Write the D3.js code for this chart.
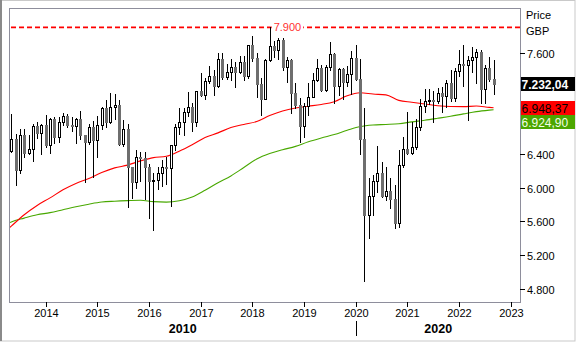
<!DOCTYPE html>
<html>
<head>
<meta charset="utf-8">
<script src="https://cdn.jsdelivr.net/npm/d3@7"></script>
<style>
  html, body { margin: 0; padding: 0; background: #fff; }
  svg { display: block; font-family: "Liberation Sans", Arial, sans-serif; }
</style>
</head>
<body>
<svg id="chart" width="577" height="343"></svg>
<script>
// FTSE 100, monthly candles from May 2013 to Sep 2022 (index 0 = May 2013)
const opens = [
  6430, 6583, 6215, 6621, 6413, 6462, 6731, 6651,
  6749, 6510, 6810, 6598, 6780, 6845, 6744, 6730, 6820, 6623, 6546, 6723,
  6566, 6749, 6947, 6773, 6961, 6984, 6521, 6696, 6248, 6062, 6361, 6356,
  6242, 6084, 6097, 6175, 6242, 6231, 6504, 6724, 6782, 6899, 6954, 6784,
  7143, 7099, 7263, 7323, 7204, 7520, 7313, 7372, 7431, 7373, 7493, 7327,
  7688, 7534, 7232, 7057, 7509, 7678, 7637, 7749, 7432, 7510, 7128, 6980,
  6728, 6969, 7075, 7279, 7418, 7162, 7426, 7587, 7207, 7408, 7248, 7347,
  7542, 7286, 6581, 5672, 5901, 6077, 6170, 5898, 5964, 5866, 5577, 6266,
  6461, 6407, 6483, 6714, 6970, 7023, 7037, 7032, 7120, 7086, 7238, 7059,
  7385, 7464, 7458, 7516, 7545, 7608, 7169, 7423, 7284
];
const highs = [
  6876, 6640, 6696, 6700, 6625, 6750, 6778, 6754,
  6867, 6832, 6833, 6843, 6880, 6879, 6834, 6830, 6904, 6630, 6760, 6790,
  6850, 6960, 7040, 7123, 7110, 7043, 6800, 6751, 6250, 6450, 6420, 6425,
  6280, 6170, 6250, 6330, 6370, 6393, 6760, 6945, 6941, 7129, 7000, 7143,
  7354, 7302, 7447, 7400, 7599, 7598, 7470, 7530, 7486, 7560, 7564, 7697,
  7792, 7600, 7300, 7520, 7903, 7740, 7777, 7780, 7546, 7530, 7240, 7060,
  7000, 7240, 7360, 7530, 7460, 7460, 7727, 7600, 7420, 7420, 7440, 7620,
  7689, 7530, 6950, 6115, 6150, 6500, 6300, 6250, 6110, 6030, 6450, 6600,
  6903, 6780, 6810, 7050, 7164, 7170, 7150, 7180, 7190, 7280, 7400, 7420,
  7633, 7687, 7560, 7670, 7640, 7630, 7450, 7550, 7514
];
const lows = [
  6420, 6030, 6170, 6370, 6400, 6316, 6589, 6404,
  6480, 6416, 6528, 6541, 6742, 6714, 6671, 6534, 6578, 6073, 6523, 6130,
  6370, 6700, 6714, 6770, 6817, 6502, 6489, 5768, 5877, 6000, 6076, 5871,
  5639, 5499, 5980, 6020, 6050, 5788, 6450, 6640, 6620, 6852, 6676, 6730,
  7087, 7056, 7240, 7093, 7190, 7287, 7287, 7273, 7199, 7363, 7275, 7300,
  7500, 7073, 6867, 7050, 7500, 7545, 7530, 7400, 7256, 6880, 6950, 6537,
  6599, 6860, 7080, 7270, 7150, 7150, 7400, 7000, 7100, 7050, 7200, 7110,
  7280, 6400, 4899, 5400, 5675, 5950, 5890, 5850, 5760, 5526, 5530, 6240,
  6400, 6400, 6460, 6680, 6900, 6990, 6780, 7000, 6900, 6960, 7030, 7030,
  7320, 7200, 6800, 7370, 7240, 7000, 7000, 7270, 7110
];
const closes = [
  6583, 6215, 6621, 6413, 6462, 6731, 6651, 6749,
  6510, 6810, 6598, 6780, 6845, 6744, 6730, 6820, 6623, 6546, 6723, 6566,
  6749, 6947, 6773, 6961, 6984, 6521, 6696, 6248, 6062, 6361, 6356, 6242,
  6084, 6097, 6175, 6242, 6231, 6504, 6724, 6782, 6899, 6954, 6784, 7143,
  7099, 7263, 7323, 7204, 7520, 7313, 7372, 7431, 7373, 7493, 7327, 7688,
  7534, 7232, 7057, 7509, 7678, 7637, 7749, 7432, 7510, 7128, 6980, 6728,
  6969, 7075, 7279, 7418, 7162, 7426, 7587, 7207, 7408, 7248, 7347, 7542,
  7286, 6581, 5672, 5901, 6077, 6170, 5898, 5964, 5866, 5577, 6266, 6461,
  6407, 6483, 6714, 6970, 7023, 7037, 7032, 7120, 7086, 7238, 7059, 7385,
  7464, 7458, 7516, 7545, 7608, 7169, 7423, 7284, 7232.04
];

// Moving averages, sampled every quarter (month index as above)
const avgMonths = [-1, 0, 3, 6, 9, 12, 15, 18, 21, 24, 27, 30, 33, 36, 39, 42, 45, 48, 51, 54,
  57, 60, 63, 66, 69, 72, 75, 78, 81, 84, 87, 90, 93, 96, 99, 102, 105, 108, 111, 112];
const avgFast = [5500, 5545, 5680, 5790, 5880, 5975, 6050, 6110, 6180, 6235, 6268, 6318, 6357, 6372, 6433, 6510, 6595, 6650, 6713, 6750,
  6785, 6855, 6910, 6945, 6966, 6987, 7020, 7090, 7125, 7110, 7100, 7035, 7013, 6992, 6972, 6962, 6961, 6968, 6952, 6948.37];
const avgSlow = [5570, 5595, 5640, 5680, 5705, 5740, 5775, 5805, 5830, 5840, 5847, 5852, 5835, 5830, 5846, 5890, 5970, 6060, 6140, 6240,
  6340, 6405, 6450, 6490, 6545, 6590, 6630, 6680, 6725, 6744, 6750, 6758, 6780, 6800, 6823, 6847, 6875, 6902, 6920, 6924.90];

const years = [2014, 2015, 2016, 2017, 2018, 2019, 2020, 2021, 2022, 2023];
const decades = ["2010", "2020"];
const priceTicks = [4800, 5200, 5600, 6000, 6400, 6800, 7200, 7600];
const resistanceLevel = 7900;
const resistanceMonth = 60;       // May 2018 high
const axisTitle = ["Price", "GBP"];

// ---------------------------------------------------------------
const W = 577, H = 343;
const plot = { left: 9, right: 520, top: 8, bottom: 302 };
const locale = d3.formatLocale({ decimal: ",", thousands: ".", grouping: [3], currency: ["", ""] });
const fmtInt = locale.format(",.0f");
const fmtDec = locale.format(",.2f");

const svg = d3.select("#chart");
const x = d3.scaleLinear().domain([0, 116]).range([11.3, 510.8]);
const y = d3.scaleLinear().domain([4800, 7600]).range([289, 52.7]);
const monthOfYear = yr => (yr - 2013) * 12 - 4;

// outer frame
svg.append("rect").attr("x", 0.5).attr("y", 0.5).attr("width", W - 2.5).attr("height", H - 2.5)
  .attr("fill", "#fff").attr("stroke", "#c9c9c9");
svg.append("line").attr("x1", 1).attr("x2", 1).attr("y1", 0).attr("y2", H - 2)
  .attr("stroke", "#8a8a8a").attr("stroke-width", 2);

// plot frame
svg.append("rect")
  .attr("x", plot.left + 0.5).attr("y", plot.top + 0.5)
  .attr("width", plot.right - plot.left).attr("height", plot.bottom - plot.top)
  .attr("fill", "#fff").attr("stroke", "#8e8e9c").attr("shape-rendering", "crispEdges");

svg.append("clipPath").attr("id", "plotClip").append("rect")
  .attr("x", plot.left + 1).attr("y", plot.top + 1)
  .attr("width", plot.right - plot.left - 1).attr("height", plot.bottom - plot.top - 1);
const g = svg.append("g").attr("clip-path", "url(#plotClip)");

// resistance level: dashed red rule
const yRes = y(resistanceLevel);
g.append("line").attr("x1", plot.left + 2).attr("x2", plot.right).attr("y1", yRes).attr("y2", yRes)
  .attr("stroke", "#ff0000").attr("stroke-width", 1.6).attr("stroke-dasharray", "5 3");
const resLabel = g.append("text")
  .attr("x", x(resistanceMonth) + 4).attr("y", yRes + 4)
  .attr("font-size", 11).attr("fill", "#ff3030")
  .text(fmtInt(resistanceLevel));
const bb = resLabel.node().getBBox();
g.insert("rect", "text").attr("x", bb.x - 2).attr("y", bb.y).attr("width", bb.width + 4).attr("height", bb.height)
  .attr("fill", "#fff");

// moving averages
const avgLine = vals => d3.line()
  .x((d, i) => x(avgMonths[i]))
  .y(d => y(d))
  .curve(d3.curveMonotoneX)(vals);
g.append("path").attr("d", avgLine(avgSlow)).attr("fill", "none")
  .attr("stroke", "#48a800").attr("stroke-width", 1.1);
g.append("path").attr("d", avgLine(avgFast)).attr("fill", "none")
  .attr("stroke", "#ff0000").attr("stroke-width", 1.1);

// candles
const candles = d3.range(closes.length).map(i => ({
  i, o: opens[i], h: highs[i], l: lows[i], c: closes[i]
}));
const cg = g.append("g").attr("shape-rendering", "crispEdges");
candles.forEach(d => {
  const cx = Math.round(x(d.i));
  const yH = Math.round(y(d.h)), yL = Math.round(y(d.l));
  const yTop = Math.round(y(Math.max(d.o, d.c))), yBot = Math.round(y(Math.min(d.o, d.c)));
  cg.append("line").attr("x1", cx + 0.5).attr("x2", cx + 0.5).attr("y1", yH).attr("y2", yL + 1)
    .attr("stroke", "#000");
  if (d.c >= d.o) {
    cg.append("rect").attr("x", cx - 0.5).attr("y", yTop + 0.5)
      .attr("width", 2).attr("height", Math.max(1, yBot - yTop))
      .attr("fill", "#fff").attr("stroke", "#000");
  } else {
    cg.append("rect").attr("x", cx - 1).attr("y", yTop)
      .attr("width", 3).attr("height", Math.max(1, yBot - yTop + 1))
      .attr("fill", "#6e6e6e");
  }
});

// bottom axis
const xa = svg.append("g").attr("font-size", 11).attr("fill", "#000");
years.forEach(yr => {
  const px = Math.round(x(monthOfYear(yr))) + 0.5;
  xa.append("line").attr("x1", px).attr("x2", px).attr("y1", plot.bottom).attr("y2", plot.bottom + 5)
    .attr("stroke", "#000").attr("shape-rendering", "crispEdges");
  xa.append("text").attr("x", px).attr("y", 317).attr("text-anchor", "middle").text(yr);
});
const splitX = Math.round(x(monthOfYear(2020))) + 0.5;
svg.append("line").attr("x1", splitX).attr("x2", splitX).attr("y1", 321).attr("y2", 336)
  .attr("stroke", "#000").attr("shape-rendering", "crispEdges");
[[plot.left, splitX], [splitX, plot.right]].forEach((span, k) => {
  svg.append("text").attr("x", (span[0] + span[1]) / 2).attr("y", 333)
    .attr("text-anchor", "middle").attr("font-size", 12.5).attr("font-weight", "bold")
    .text(decades[k]);
});

// current value boxes, stacked so they never overlap
const boxes = [
  { v: closes[closes.length - 1], fill: "#000", color: "#fff", weight: "bold" },
  { v: avgFast[avgFast.length - 1], fill: "#ff0000", color: "#000", weight: "normal" },
  { v: avgSlow[avgSlow.length - 1], fill: "#4ca600", color: "#f2ffe6", weight: "normal" }
];
const boxH = 14;
let prevBottom = -Infinity;
boxes.sort((a, b) => y(a.v) - y(b.v)).forEach(b => {
  let top = Math.round(y(b.v) - boxH / 2);
  if (top < prevBottom) top = prevBottom;
  prevBottom = top + boxH;
  b.top = top;
});

// right axis: ticks hidden behind a value box are left out
const ya = svg.append("g").attr("font-size", 11).attr("fill", "#000");
priceTicks.forEach(p => {
  const py = Math.round(y(p)) + 0.5;
  if (boxes.some(b => py > b.top - 4 && py < b.top + boxH + 4)) return;
  ya.append("line").attr("x1", plot.right).attr("x2", plot.right + 5).attr("y1", py).attr("y2", py)
    .attr("stroke", "#000").attr("shape-rendering", "crispEdges");
  ya.append("text").attr("x", plot.right + 7).attr("y", py + 4).text(fmtInt(p));
});
axisTitle.forEach((t, k) => {
  ya.append("text").attr("x", plot.right + 6).attr("y", 19 + k * 16).text(t);
});

boxes.forEach(b => {
  svg.append("rect").attr("x", plot.right + 1).attr("y", b.top).attr("width", 54).attr("height", boxH)
    .attr("fill", b.fill);
  svg.append("text").attr("x", plot.right + 1.5).attr("y", b.top + 11.5)
    .attr("font-size", 12).attr("font-weight", b.weight).attr("fill", b.color)
    .text(fmtDec(b.v));
});
</script>
</body>
</html>
